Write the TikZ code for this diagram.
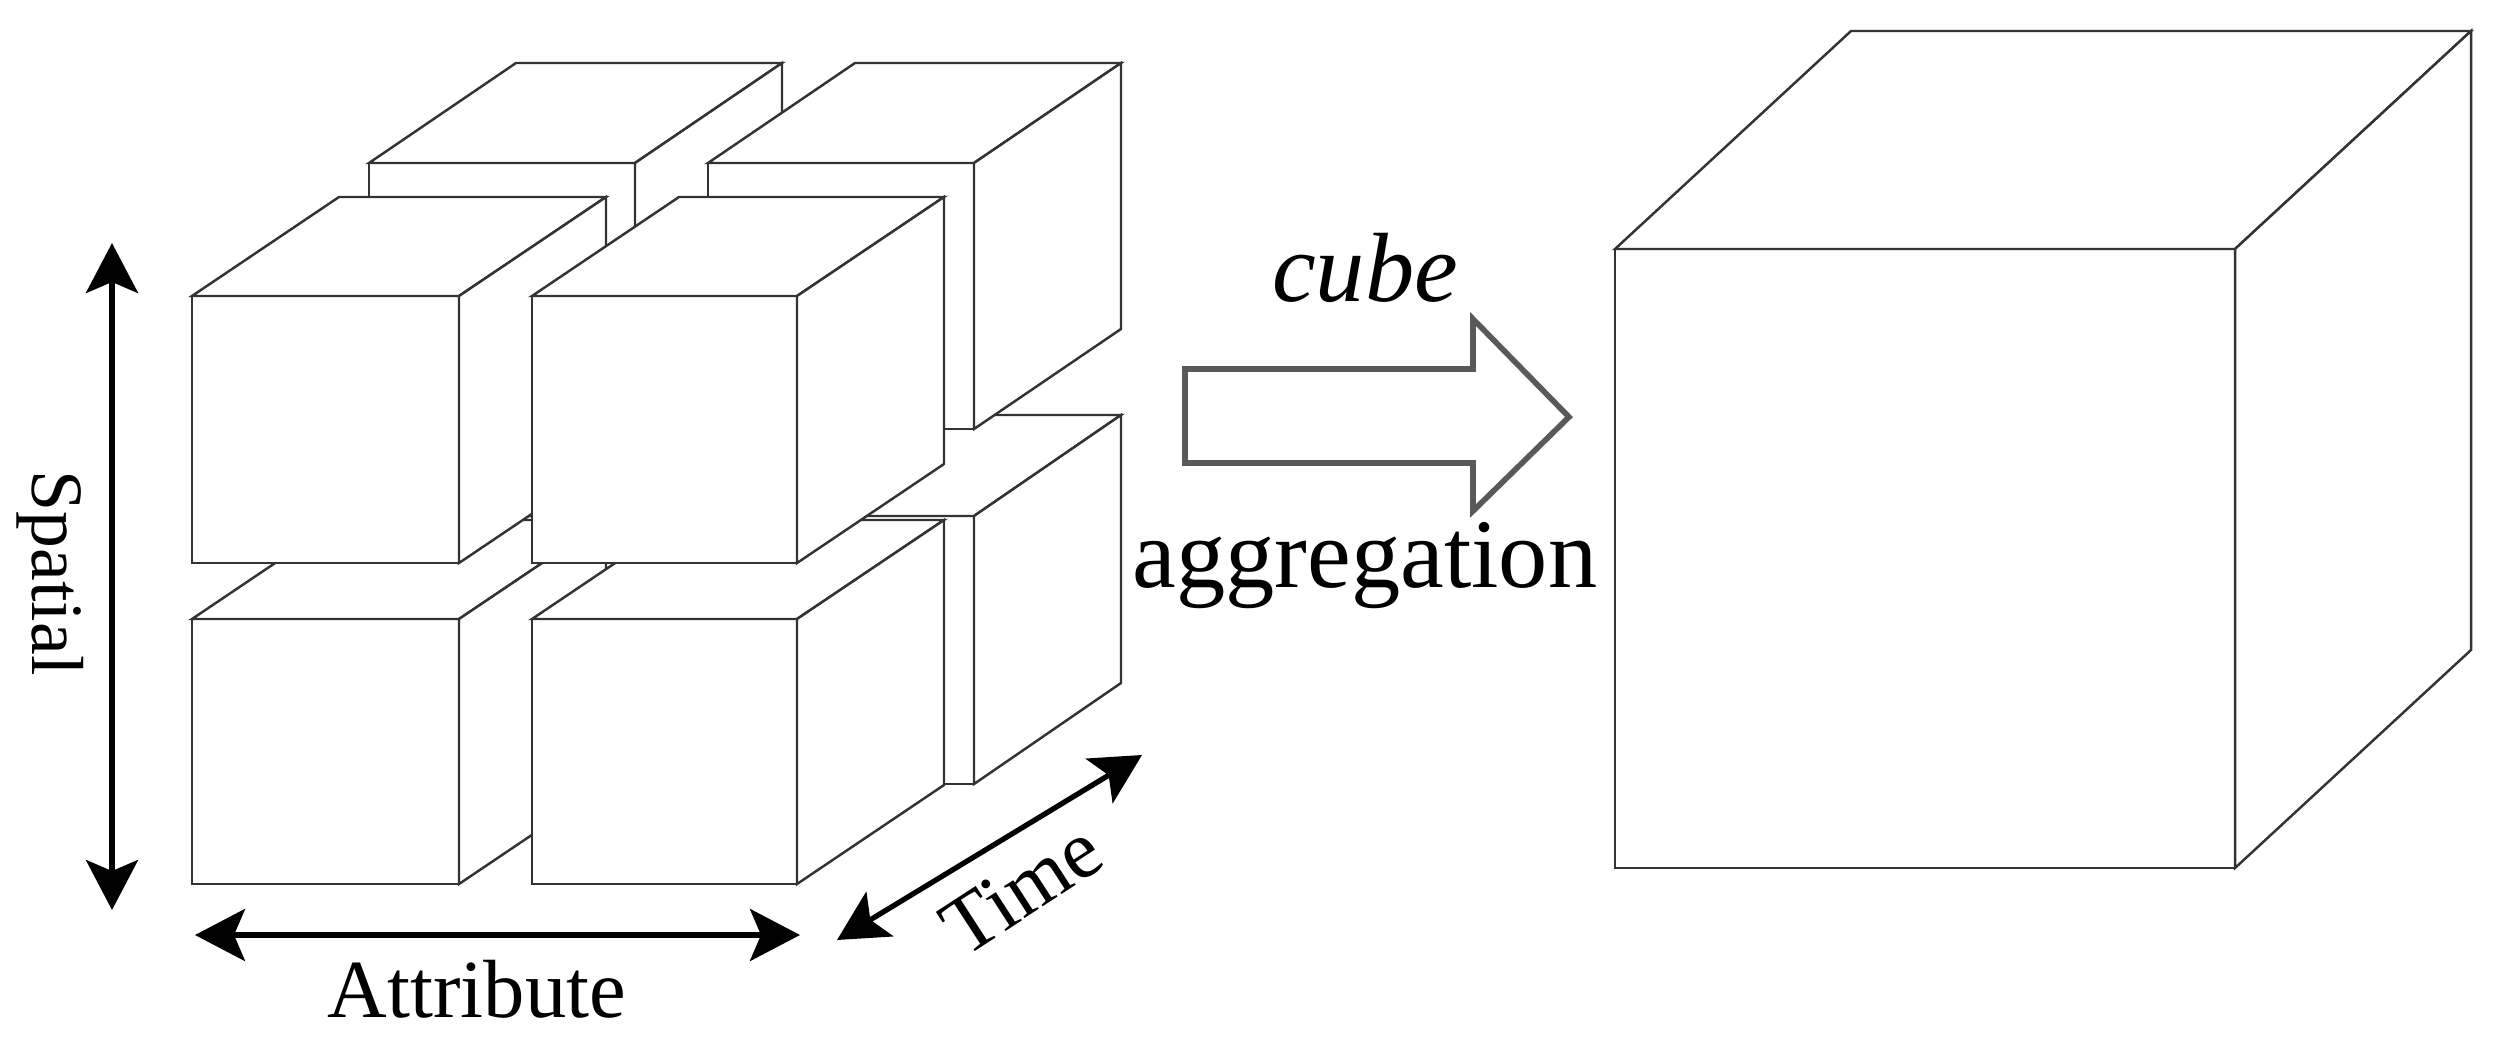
\documentclass[tikz,border=0pt]{standalone}
\usepackage{fontspec}
\setmainfont{Liberation Serif}
\usetikzlibrary{arrows.meta}

\begin{document}
\begin{tikzpicture}[x=0.02cm, y=-0.02cm,
edge/.style={draw=black!80, line width=1.4pt, line join=miter},
axis/.style={{Stealth[length=1cm, width=1.04cm, inset=0.22cm]}-{Stealth[length=1cm, width=1.04cm, inset=0.22cm]}, line width=3pt, black},
label/.style={align=center, inner sep=0pt, text=black},
bigtext/.style={label, font=\fontsize{56}{60}\selectfont},
smalltext/.style={label, font=\fontsize{47}{50}\selectfont},
sidetext/.style={label, font=\fontsize{42}{45}\selectfont},
]

\tikzset{
  pics/block/.style args={#1,#2,#3,#4}{
     code={
	     \draw [edge, fill=white] (0,0) -- (#1,0) -- (#1,-#2) -- (0,-#2) -- cycle;
	     \draw [edge, fill=white] (0,-#2) -- (#3,-#2-#4) -- (#1+#3,-#2-#4) -- (#1,-#2) -- cycle;
	     \draw [edge, fill=white] (#1,0) -- (#1+#3,-#4) -- (#1+#3,-#2-#4) -- (#1,-#2) -- cycle;
     }
  }
}

\useasboundingbox (0,0) rectangle (2499,1038);

%Blocks
\draw (369,784) pic{block={266,268,147,101}};
\draw (708,784) pic{block={266,268,147,101}};
\draw (369,429) pic{block={266,266,147,100}};
\draw (708,429) pic{block={266,266,147,100}};
\draw (192,884) pic{block={267,265,147,99}};
\draw (532,884) pic{block={265,265,147,99}};
\draw (192,563) pic{block={267,267,147,99}};
\draw (532,563) pic{block={265,267,147,99}};
\draw (1615,868) pic{block={620,619,236,218}};

% Coordinates
\coordinate (spatial_a) at (112,243);
\coordinate (spatial_b) at (112,910);
\coordinate (attr_a) at (195,935);
\coordinate (attr_b) at (800,935);
\coordinate (time_a) at (837,940);
\coordinate (time_b) at (1142,755);

% Labels
\node [sidetext, rotate=-90] (spatial) at (50,573) {Spatial};
\node [smalltext] (attribute) at (477,989) {Attribute};
\node [smalltext, rotate=33] (time) at (1022,889) {Time};
\node [bigtext] (cube) at (1365,268) {\itshape cube};
\node [bigtext] (aggregation) at (1365,566) {aggregation};

% Paths
\draw [axis] (spatial_a) -- (spatial_b);
\draw [axis] (attr_a) -- (attr_b);
\draw [axis] (time_a) -- (time_b);
\draw [draw=black!65, line width=3.2pt, fill=white] (1185,369) -- (1473,369) -- (1473,319) -- (1569,417) -- (1473,511) -- (1473,463) -- (1185,463) -- cycle;
\end{tikzpicture}
\end{document}
